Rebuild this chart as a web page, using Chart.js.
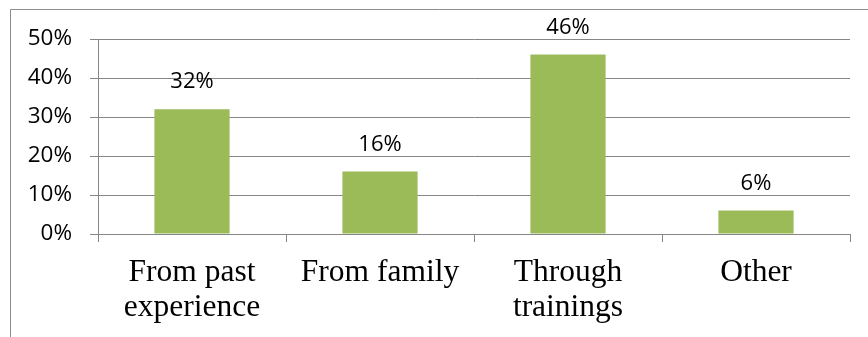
<!DOCTYPE html>
<html>
<head>
<meta charset="utf-8">
<script src="https://cdn.jsdelivr.net/npm/chart.js@4"></script>
<style>
  html, body { margin: 0; padding: 0; background: #fff; }
  #wrap { width: 868px; height: 337px; }
</style>
</head>
<body>
<div id="wrap"><canvas id="sourcesChart" width="868" height="337"></canvas></div>
<script>
const categories = [['From past', 'experience'], 'From family', ['Through', 'trainings'], 'Other']
const shares = [32, 16, 46, 6]
const yTicks = [0, 10, 20, 30, 40, 50]

const gridGray = '#868686'

// outer chart frame (cut off at the right and bottom)
const framePlugin = {
    id: 'frame',
    beforeDraw: chart => {
        const ctx = chart.ctx
        ctx.save()
        ctx.strokeStyle = '#8c8c8c'
        ctx.lineWidth = 1
        ctx.beginPath()
        ctx.moveTo(10.5, 337)
        ctx.lineTo(10.5, 9.5)
        ctx.lineTo(868, 9.5)
        ctx.stroke()
        ctx.restore()
    }
}

// value labels above each bar
const valueLabels = {
    id: 'valueLabels',
    afterDatasetsDraw: chart => {
        const ctx = chart.ctx
        ctx.save()
        ctx.font = '22px "Open Sans"'
        ctx.fillStyle = '#000'
        ctx.textAlign = 'center'
        ctx.textBaseline = 'middle'
        chart.getDatasetMeta(0).data.forEach((bar, i) => {
            ctx.fillText(shares[i] + '%', bar.x, bar.y - 27)
        })
        ctx.restore()
    }
}

const data = {
    labels: categories,
    datasets: [{
        data: shares,
        backgroundColor: '#9bbb59',
        borderWidth: 0,
        barPercentage: 0.4,
        categoryPercentage: 1
    }]
}

const options = {
    responsive: false,
    animation: false,
    layout: { padding: { left: 0, right: 18, top: 39, bottom: 0 } },
    plugins: {
        legend: { display: false },
        tooltip: { enabled: false }
    },
    scales: {
        x: {
            grid: {
                drawOnChartArea: false,
                drawTicks: true,
                tickLength: 8,
                color: gridGray
            },
            border: { color: gridGray },
            ticks: {
                color: '#000',
                font: { family: '"Liberation Serif"', size: 31.5, lineHeight: 1.12 },
                padding: 13,
                maxRotation: 0
            },
            afterFit: scale => { scale.height = 103 }
        },
        y: {
            min: 0,
            max: 50,
            afterBuildTicks: scale => { scale.ticks = yTicks.map(v => ({ value: v })) },
            grid: {
                color: gridGray,
                tickLength: 8
            },
            border: { color: gridGray },
            ticks: {
                color: '#000',
                font: { family: '"Open Sans"', size: 22.5 },
                padding: 18,
                callback: v => v + '%'
            },
            afterFit: scale => { scale.width = 98 }
        }
    }
}

new Chart('sourcesChart', { type: 'bar', data, options, plugins: [framePlugin, valueLabels] })
</script>
</body>
</html>
